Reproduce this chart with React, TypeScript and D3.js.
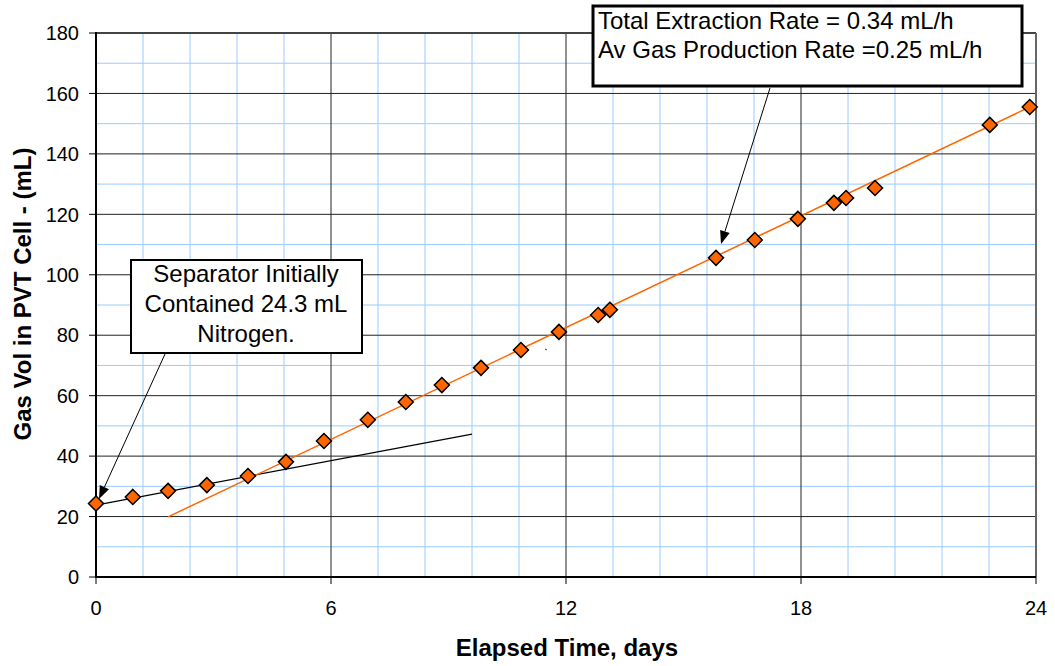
import React from "react";
import * as d3 from "d3";

const days = [0, 0.94, 1.84, 2.83, 3.88, 4.85, 5.82, 6.94, 7.91, 8.83, 9.83, 10.85, 11.82, 12.82, 13.12, 15.83, 16.82, 17.92, 18.84, 19.15, 19.89, 22.82, 23.84];
const gasVol = [24.3, 26.5, 28.5, 30.4, 33.4, 38.1, 45.0, 52.0, 57.9, 63.5, 69.2, 75.1, 81.1, 86.7, 88.4, 105.6, 111.5, 118.5, 123.8, 125.4, 128.7, 149.6, 155.5];

const orangeTrendX = [1.84, 24];
const orangeTrendY = [19.9, 156.5];
const blackTrendX = [0, 9.6];
const blackTrendY = [23.8, 47.3];

const xTicks = [0, 6, 12, 18, 24];
const yTicks = [0, 20, 40, 60, 80, 100, 120, 140, 160, 180];

const xTitle = "Elapsed Time, days";
const yTitle = "Gas Vol in PVT Cell - (mL)";
const note1 = ["Separator Initially", "Contained 24.3 mL", "Nitrogen."];
const note2 = ["Total Extraction Rate = 0.34 mL/h", "Av Gas Production Rate =0.25 mL/h"];

const FONT = "'Liberation Sans', Arial, Helvetica, sans-serif";

export default function App() {
  const W = 1055, H = 666;
  const x = d3.scaleLinear().domain([0, 24]).range([96, 1036]);
  const y = d3.scaleLinear().domain([0, 180]).range([577, 33]);

  const minorX = d3.range(0, 24.001, 1.2).filter(v => Math.abs(v / 6 - Math.round(v / 6)) > 1e-6);
  const minorY = d3.range(10, 180, 20);

  const line = d3.line<[number, number]>().x(d => x(d[0])).y(d => y(d[1]));
  const orange = line(orangeTrendX.map((v, i) => [v, orangeTrendY[i]] as [number, number])) || "";
  const black = line(blackTrendX.map((v, i) => [v, blackTrendY[i]] as [number, number])) || "";

  const r = 7.5;
  const dpath = `M0,${-r}L${r},0L0,${r}L${-r},0Z`;

  const arrow = (x1: number, y1: number, x2: number, y2: number) => {
    const ang = Math.atan2(y2 - y1, x2 - x1);
    const L = 13, Wd = 5;
    const bx = x2 - L * Math.cos(ang), by = y2 - L * Math.sin(ang);
    const px = -Math.sin(ang) * Wd, py = Math.cos(ang) * Wd;
    return (
      <g>
        <line x1={x1} y1={y1} x2={bx} y2={by} stroke="#000" strokeWidth={1} />
        <path d={`M${x2},${y2}L${bx + px},${by + py}L${bx - px},${by - py}Z`} fill="#000" />
      </g>
    );
  };

  return (
    <svg width={W} height={H} style={{ position: "absolute", left: 0, top: 0, background: "#fff" }} fontFamily={FONT}>
      <rect x={0} y={0} width={W} height={H} fill="#fff" />
      {minorX.map((v, i) => (
        <line key={"mx" + i} x1={x(v)} x2={x(v)} y1={y(0)} y2={y(180)} stroke="#99CCFF" strokeWidth={1} />
      ))}
      {minorY.map((v, i) => (
        <line key={"my" + i} x1={x(0)} x2={x(24)} y1={y(v)} y2={y(v)} stroke="#99CCFF" strokeWidth={1} />
      ))}
      {xTicks.slice(1, -1).map((v, i) => (
        <line key={"gx" + i} x1={x(v)} x2={x(v)} y1={y(0)} y2={y(180)} stroke="#222" strokeWidth={1} />
      ))}
      {yTicks.slice(1).map((v, i) => (
        <line key={"gy" + i} x1={x(0)} x2={x(24)} y1={y(v)} y2={y(v)} stroke="#222" strokeWidth={1} />
      ))}
      <line x1={x(0)} x2={x(24)} y1={y(180)} y2={y(180)} stroke="#444" strokeWidth={2} />
      <line x1={x(24)} x2={x(24)} y1={y(0)} y2={y(180)} stroke="#666" strokeWidth={2} />
      <line x1={x(0)} x2={x(0)} y1={y(0) + 1} y2={y(180) - 1} stroke="#000" strokeWidth={2} />
      <line x1={x(0) - 1} x2={x(24)} y1={y(0)} y2={y(0)} stroke="#000" strokeWidth={2} />
      {yTicks.map((v, i) => (
        <g key={"yt" + i}>
          <line x1={x(0) - 7} x2={x(0)} y1={y(v)} y2={y(v)} stroke="#000" strokeWidth={1} />
          <text x={79} y={y(v)} dy="0.36em" textAnchor="end" fontSize={20} fill="#000">{v}</text>
        </g>
      ))}
      {xTicks.map((v, i) => (
        <g key={"xt" + i}>
          <line x1={x(v)} x2={x(v)} y1={y(0)} y2={y(0) + 7} stroke="#000" strokeWidth={1} />
          <text x={x(v)} y={615} textAnchor="middle" fontSize={20} fill="#000">{v}</text>
        </g>
      ))}
      <text x={567} y={656} textAnchor="middle" fontSize={24} fontWeight="bold" fill="#000">{xTitle}</text>
      <text transform={`translate(31,294) rotate(-90)`} textAnchor="middle" fontSize={24} fontWeight="bold" fill="#000">{yTitle}</text>
      <path d={black} stroke="#000" strokeWidth={1.2} fill="none" />
      <path d={orange} stroke="#FF6600" strokeWidth={1.5} fill="none" />
      {days.map((d, i) => (
        <path key={"m" + i} d={dpath} transform={`translate(${x(d)},${y(gasVol[i])})`} fill="#FF6600" stroke="#000" strokeWidth={1.5} />
      ))}
      <line x1={545} y1={349} x2={547} y2={350} stroke="#333" strokeWidth={1} />
      {arrow(165, 354, 99, 499)}
      {arrow(770, 88, 721, 244)}
      <rect x={131} y={260} width={231} height={93} fill="#fff" stroke="#000" strokeWidth={2} />
      {note1.map((t, i) => (
        <text key={"n1" + i} x={246} y={282 + i * 30} textAnchor="middle" fontSize={24} fill="#000">{t}</text>
      ))}
      <rect x={593} y={6} width={429} height={80} fill="#fff" stroke="#000" strokeWidth={3} />
      {note2.map((t, i) => (
        <text key={"n2" + i} x={598} y={29 + i * 29} fontSize={24} fill="#000">{t}</text>
      ))}
    </svg>
  );
}
